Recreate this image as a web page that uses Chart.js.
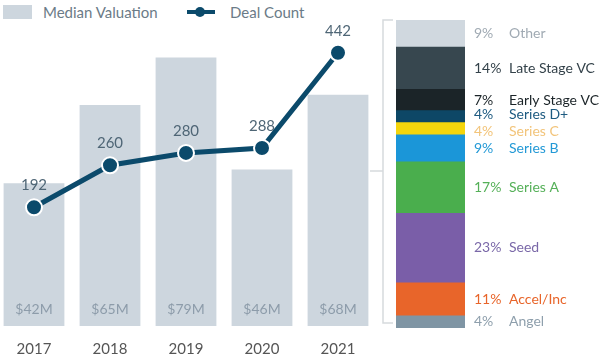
<!DOCTYPE html>
<html>
<head>
<meta charset="utf-8">
<script src="https://cdn.jsdelivr.net/npm/chart.js@4"></script>
<style>
  body { margin: 0; background: #fff; font-family: Lato, sans-serif; }
  #wrap { position: relative; width: 600px; height: 359px; overflow: hidden; }
  #left { position: absolute; left: -4px; top: 0; }
  #right { position: absolute; left: 360px; top: 0; }
  .legend { position: absolute; top: 3px; font-size: 15px; color: #6b7b87; line-height: 18px; }
  .swatch { position: absolute; left: 3px; top: 5px; width: 29px; height: 14px; background: #cdd6de; }
  .lline { position: absolute; left: 187px; top: 10px; width: 28px; height: 4px; background: #0b4a6b; }
  .ldot { position: absolute; left: 195px; top: 7px; width: 10px; height: 10px; border-radius: 50%; background: #0b4a6b; }
</style>
</head>
<body>
<div id="wrap">
  <div class="swatch"></div>
  <div class="legend" style="left:43px">Median Valuation</div>
  <div class="lline"></div>
  <div class="ldot"></div>
  <div class="legend" style="left:230px">Deal Count</div>
  <canvas id="left" width="380" height="359"></canvas>
  <canvas id="right" width="240" height="359"></canvas>
</div>
<script>
const years = ['2017', '2018', '2019', '2020', '2021'];
const medianValuation = [42, 65, 79, 46, 68];
const dealCount = [192, 260, 280, 288, 442];

// stage mix, listed top to bottom
const stages = ['Other', 'Late Stage VC', 'Early Stage VC', 'Series D+', 'Series C', 'Series B', 'Series A', 'Seed', 'Accel/Inc', 'Angel'];
const stageShare = [9, 14, 7, 4, 4, 9, 17, 23, 11, 4];
const stageColors = ['#d0d8df', '#37474f', '#1b2428', '#0d4766', '#f4d50c', '#1b96d8', '#4aae4d', '#7a5ea8', '#e8652a', '#7f95a4'];
const stageTextColors = ['#a0aab3', '#34424a', '#1b2428', '#1d5a80', '#f2c47a', '#2399d6', '#55b058', '#7a68a8', '#e8652a', '#8e9fac'];

const navy = '#0b4a6b';

const leftLabels = {
  id: 'leftLabels',
  afterDatasetsDraw(chart) {
    const ctx = chart.ctx;
    ctx.save();
    ctx.textAlign = 'center';
    ctx.textBaseline = 'middle';
    ctx.font = '15px Lato';
    ctx.fillStyle = '#4f6676';
    chart.getDatasetMeta(0).data.forEach((pt, i) => {
      ctx.fillText(dealCount[i], pt.x, pt.y - 22);
    });
    ctx.font = '14px Lato';
    ctx.fillStyle = '#8d9caa';
    chart.getDatasetMeta(1).data.forEach((bar, i) => {
      ctx.fillText('$' + medianValuation[i] + 'M', bar.x, chart.chartArea.bottom - 17);
    });
    ctx.restore();
  }
};

new Chart(document.getElementById('left'), {
  data: {
    labels: years,
    datasets: [
      {
        type: 'line',
        label: 'Deal Count',
        data: dealCount,
        yAxisID: 'y2',
        borderColor: navy,
        borderWidth: 5,
        pointRadius: 8,
        pointBackgroundColor: navy,
        pointBorderColor: '#fff',
        pointBorderWidth: 2,
        tension: 0,
        clip: false,
        order: 0
      },
      {
        type: 'bar',
        label: 'Median Valuation',
        data: medianValuation,
        yAxisID: 'y',
        backgroundColor: '#cdd6de',
        barPercentage: 0.8,
        categoryPercentage: 1,
        order: 1
      }
    ]
  },
  options: {
    responsive: false,
    animation: false,
    layout: { autoPadding: false, padding: { top: 20, bottom: 0 } },
    plugins: { legend: { display: false }, tooltip: { enabled: false } },
    scales: {
      x: {
        grid: { display: false, drawTicks: false },
        border: { display: false },
        ticks: { color: '#555', font: { family: 'Lato', size: 15 }, padding: 14 },
        afterFit(scale) {
          scale.height = 33;
          scale.paddingLeft = 0;
          scale.paddingRight = 0;
        }
      },
      y: { display: false, min: 0, max: 90 },
      y2: { display: false, min: 0, max: 495 }
    }
  },
  plugins: [leftLabels]
});

// small vertical nudges so the thin segments' labels don't collide
const labelNudge = { 'Series D+': -2, 'Series C': 3 };

const rightLabels = {
  id: 'rightLabels',
  afterDatasetsDraw(chart) {
    const ctx = chart.ctx;
    const n = stages.length;
    ctx.save();
    ctx.textBaseline = 'middle';
    ctx.font = '14px Lato';
    chart.data.datasets.forEach((ds, di) => {
      const idx = n - 1 - di;
      const bar = chart.getDatasetMeta(di).data[0];
      const y = (bar.y + bar.base) / 2 + (labelNudge[stages[idx]] || 0);
      ctx.fillStyle = stageTextColors[idx];
      ctx.textAlign = 'left';
      ctx.fillText(stageShare[idx] + '%', 114, y);
      ctx.fillText(stages[idx], 149, y);
    });
    // bracket
    const a = chart.chartArea;
    ctx.strokeStyle = '#d6dadd';
    ctx.lineWidth = 1.5;
    ctx.beginPath();
    ctx.moveTo(33, a.top);
    ctx.lineTo(23, a.top);
    ctx.lineTo(23, a.bottom - 5);
    ctx.lineTo(33, a.bottom - 5);
    ctx.moveTo(10, 171);
    ctx.lineTo(23, 171);
    ctx.stroke();
    ctx.restore();
  }
};

new Chart(document.getElementById('right'), {
  type: 'bar',
  data: {
    labels: [''],
    datasets: stages.map((s, i) => ({
      label: s,
      data: [stageShare[i]],
      backgroundColor: stageColors[i],
      barPercentage: 1,
      categoryPercentage: 1
    })).reverse()
  },
  options: {
    responsive: false,
    animation: false,
    layout: { padding: { left: 36, right: 135, top: 20, bottom: 31 } },
    plugins: { legend: { display: false }, tooltip: { enabled: false } },
    scales: {
      x: { display: false, stacked: true },
      y: { display: false, stacked: true, min: 0, max: 102 }
    }
  },
  plugins: [rightLabels]
});
</script>
</body>
</html>
